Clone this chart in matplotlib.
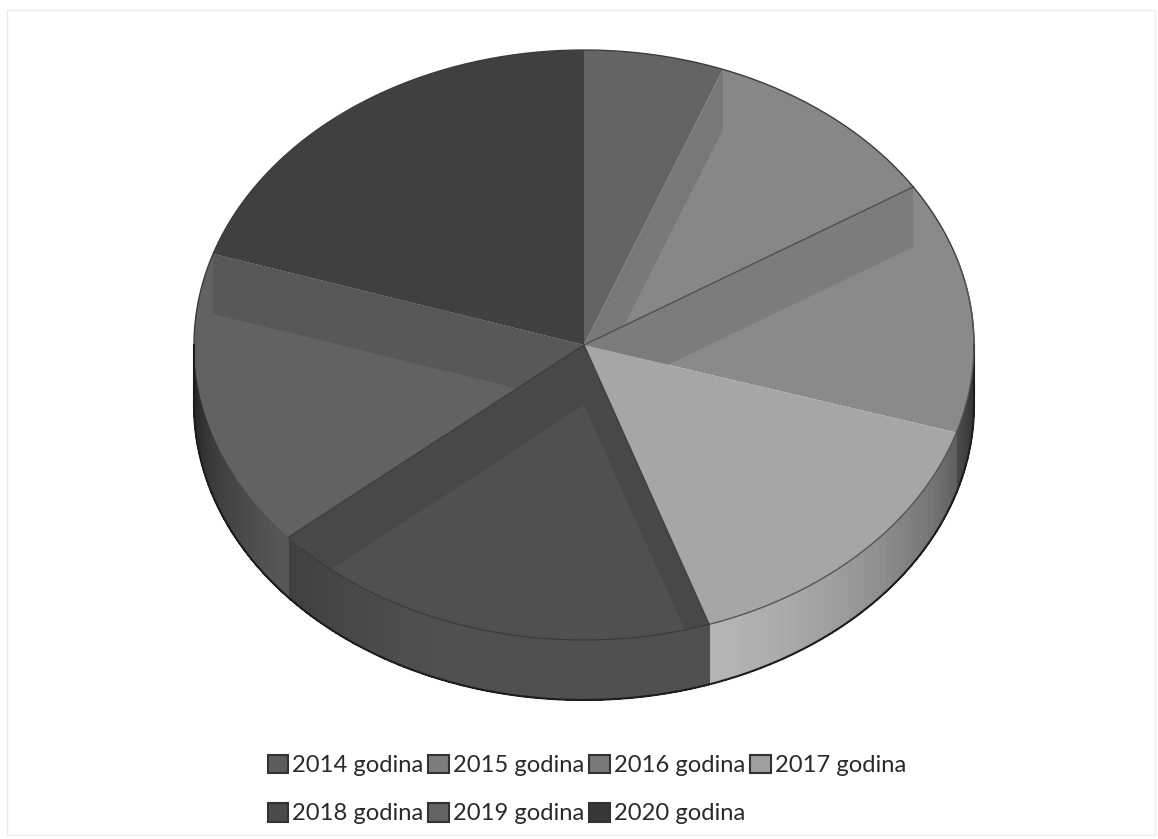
import numpy as np
import matplotlib
matplotlib.use("Agg")
import matplotlib.pyplot as plt
from matplotlib.patches import Patch, Polygon, Rectangle

labels = ['2014 godina', '2015 godina', '2016 godina', '2017 godina',
          '2018 godina', '2019 godina', '2020 godina']
shares = [5.8, 10.2, 13.8, 15.0, 18.9, 16.3, 20.0]

# grey levels
top_colors = ['#646464', '#878787', '#8a8a8a', '#a6a6a6', '#505050', '#626262', '#404040']
strip_colors = [None, '#787878', '#7c7c7c', None, '#484848', '#585858', None]
wall_colors = ['#585858', '#777777', '#8c8c8c', '#b4b4b4', '#505050', '#707070', '#383838']
legend_colors = ['#5c5c5c', '#7d7d7d', '#787878', '#a0a0a0', '#4b4b4b', '#646464', '#373737']

# layout in pixels of the reference
W, H = 1158, 839
cx, cy = 584, 345
rx, ry = 390, 295
depth = 60 / ry

fig = plt.figure(figsize=(W / 100, H / 100), dpi=100)
ax = fig.add_axes([0, 0, 1, 1])

wedges, _ = ax.pie(shares, colors=top_colors, startangle=90, counterclock=False,
                   radius=1, wedgeprops={'linewidth': 0})
ax.set_aspect('auto')
ax.set_xlim(-cx / rx, (W - cx) / rx)
ax.set_ylim(-(H - cy) / ry, cy / ry)
ax.axis('off')

for w in wedges:
    w.set_zorder(3)

# angle clockwise from the top, so x = sin, y = cos
edges = np.radians(np.concatenate([[0], np.cumsum(shares)]) * 3.6)


def rim(t):
    return np.sin(t), np.cos(t)


# outer wall, darker towards the two ends
for i in range(len(shares)):
    start = max(edges[i], np.pi / 2)
    stop = min(edges[i + 1], 3 * np.pi / 2)
    if stop <= start:
        continue
    ts = np.linspace(start, stop, max(2, int(np.degrees(stop - start) / 1.5)))
    base = np.array(matplotlib.colors.to_rgb(wall_colors[i]))
    for t0, t1 in zip(ts[:-1], ts[1:]):
        f = min(1, 0.3 + 0.75 * abs(np.cos((t0 + t1) / 2)))
        x = np.sin([t0, t1, t1, t0])
        y = np.cos([t0, t1, t1, t0]) - np.array([0, 0, depth, depth])
        ax.add_patch(Polygon(np.column_stack([x, y]), closed=True, facecolor=base * f,
                             edgecolor=base * f, linewidth=0.5, antialiased=False, zorder=2))

# cut faces seen through the top of some slices
strip_edges = {1: [edges[1]], 2: [edges[2]], 4: [edges[4], edges[5]], 5: [edges[6]]}
for i, angles in strip_edges.items():
    for t in angles:
        x, y = rim(t)
        face = Polygon([(0, 0), (x, y), (x, y - depth), (0, -depth)], closed=True,
                       facecolor=strip_colors[i], edgecolor='none', zorder=4)
        ax.add_patch(face)
        face.set_clip_path(wedges[i])

# separators on the top face
for t, color in [(edges[2], '#4f4f4f'), (edges[5], '#3e3e3e'), (edges[4], '#404040')]:
    x, y = rim(t)
    ax.plot([0, x], [0, y], color=color, lw=1, zorder=5)

# outlines
t = np.linspace(-np.pi / 2, np.pi / 2, 300)
ax.plot(np.sin(t), np.cos(t), color='#3c3c3c', lw=1, zorder=6)
t = np.linspace(np.pi / 2, 3 * np.pi / 2, 300)
ax.plot(np.sin(t), np.cos(t) - depth, color='#1e1e1e', lw=1.5, zorder=6)
ax.plot([1, 1], [0, -depth], color='#1e1e1e', lw=1.5, zorder=6)
ax.plot([-1, -1], [0, -depth], color='#1e1e1e', lw=1.5, zorder=6)
t = np.linspace(edges[2] + 0.25, edges[4], 200)
ax.plot(np.sin(t), np.cos(t), color='#555555', lw=1, zorder=6)
t = np.linspace(edges[4], edges[5] - 0.05, 200)
ax.plot(np.sin(t), np.cos(t), color='#3a3a3a', lw=0.8, zorder=6)

# faint edge of the scanned page
fig.add_artist(Rectangle((7 / W, 4 / H), (W - 10) / W, (H - 14) / H, transform=fig.transFigure,
                         fill=False, edgecolor='#ececec', linewidth=1))

# legend fills column by column, so reorder to get 4 + 3 rows
order = [0, 4, 1, 5, 2, 6, 3]
handles = [Patch(facecolor=legend_colors[i], edgecolor='#333333', linewidth=1.5) for i in order]
fig.legend(handles, [labels[i] for i in order], ncol=4, loc='center', bbox_to_anchor=(0.5, 0.0),
           bbox_transform=fig.transFigure, frameon=False, prop={'family': 'Lato', 'size': 17.1},
           handlelength=0.85, handleheight=0.85, handletextpad=0.2, columnspacing=0.2,
           labelspacing=1.12, labelcolor='#2a2a2a')
leg = fig.legends[0]
leg.set_bbox_to_anchor((587 / W, 1 - 789.5 / H), transform=fig.transFigure)

fig.savefig('out.png', dpi=100)
